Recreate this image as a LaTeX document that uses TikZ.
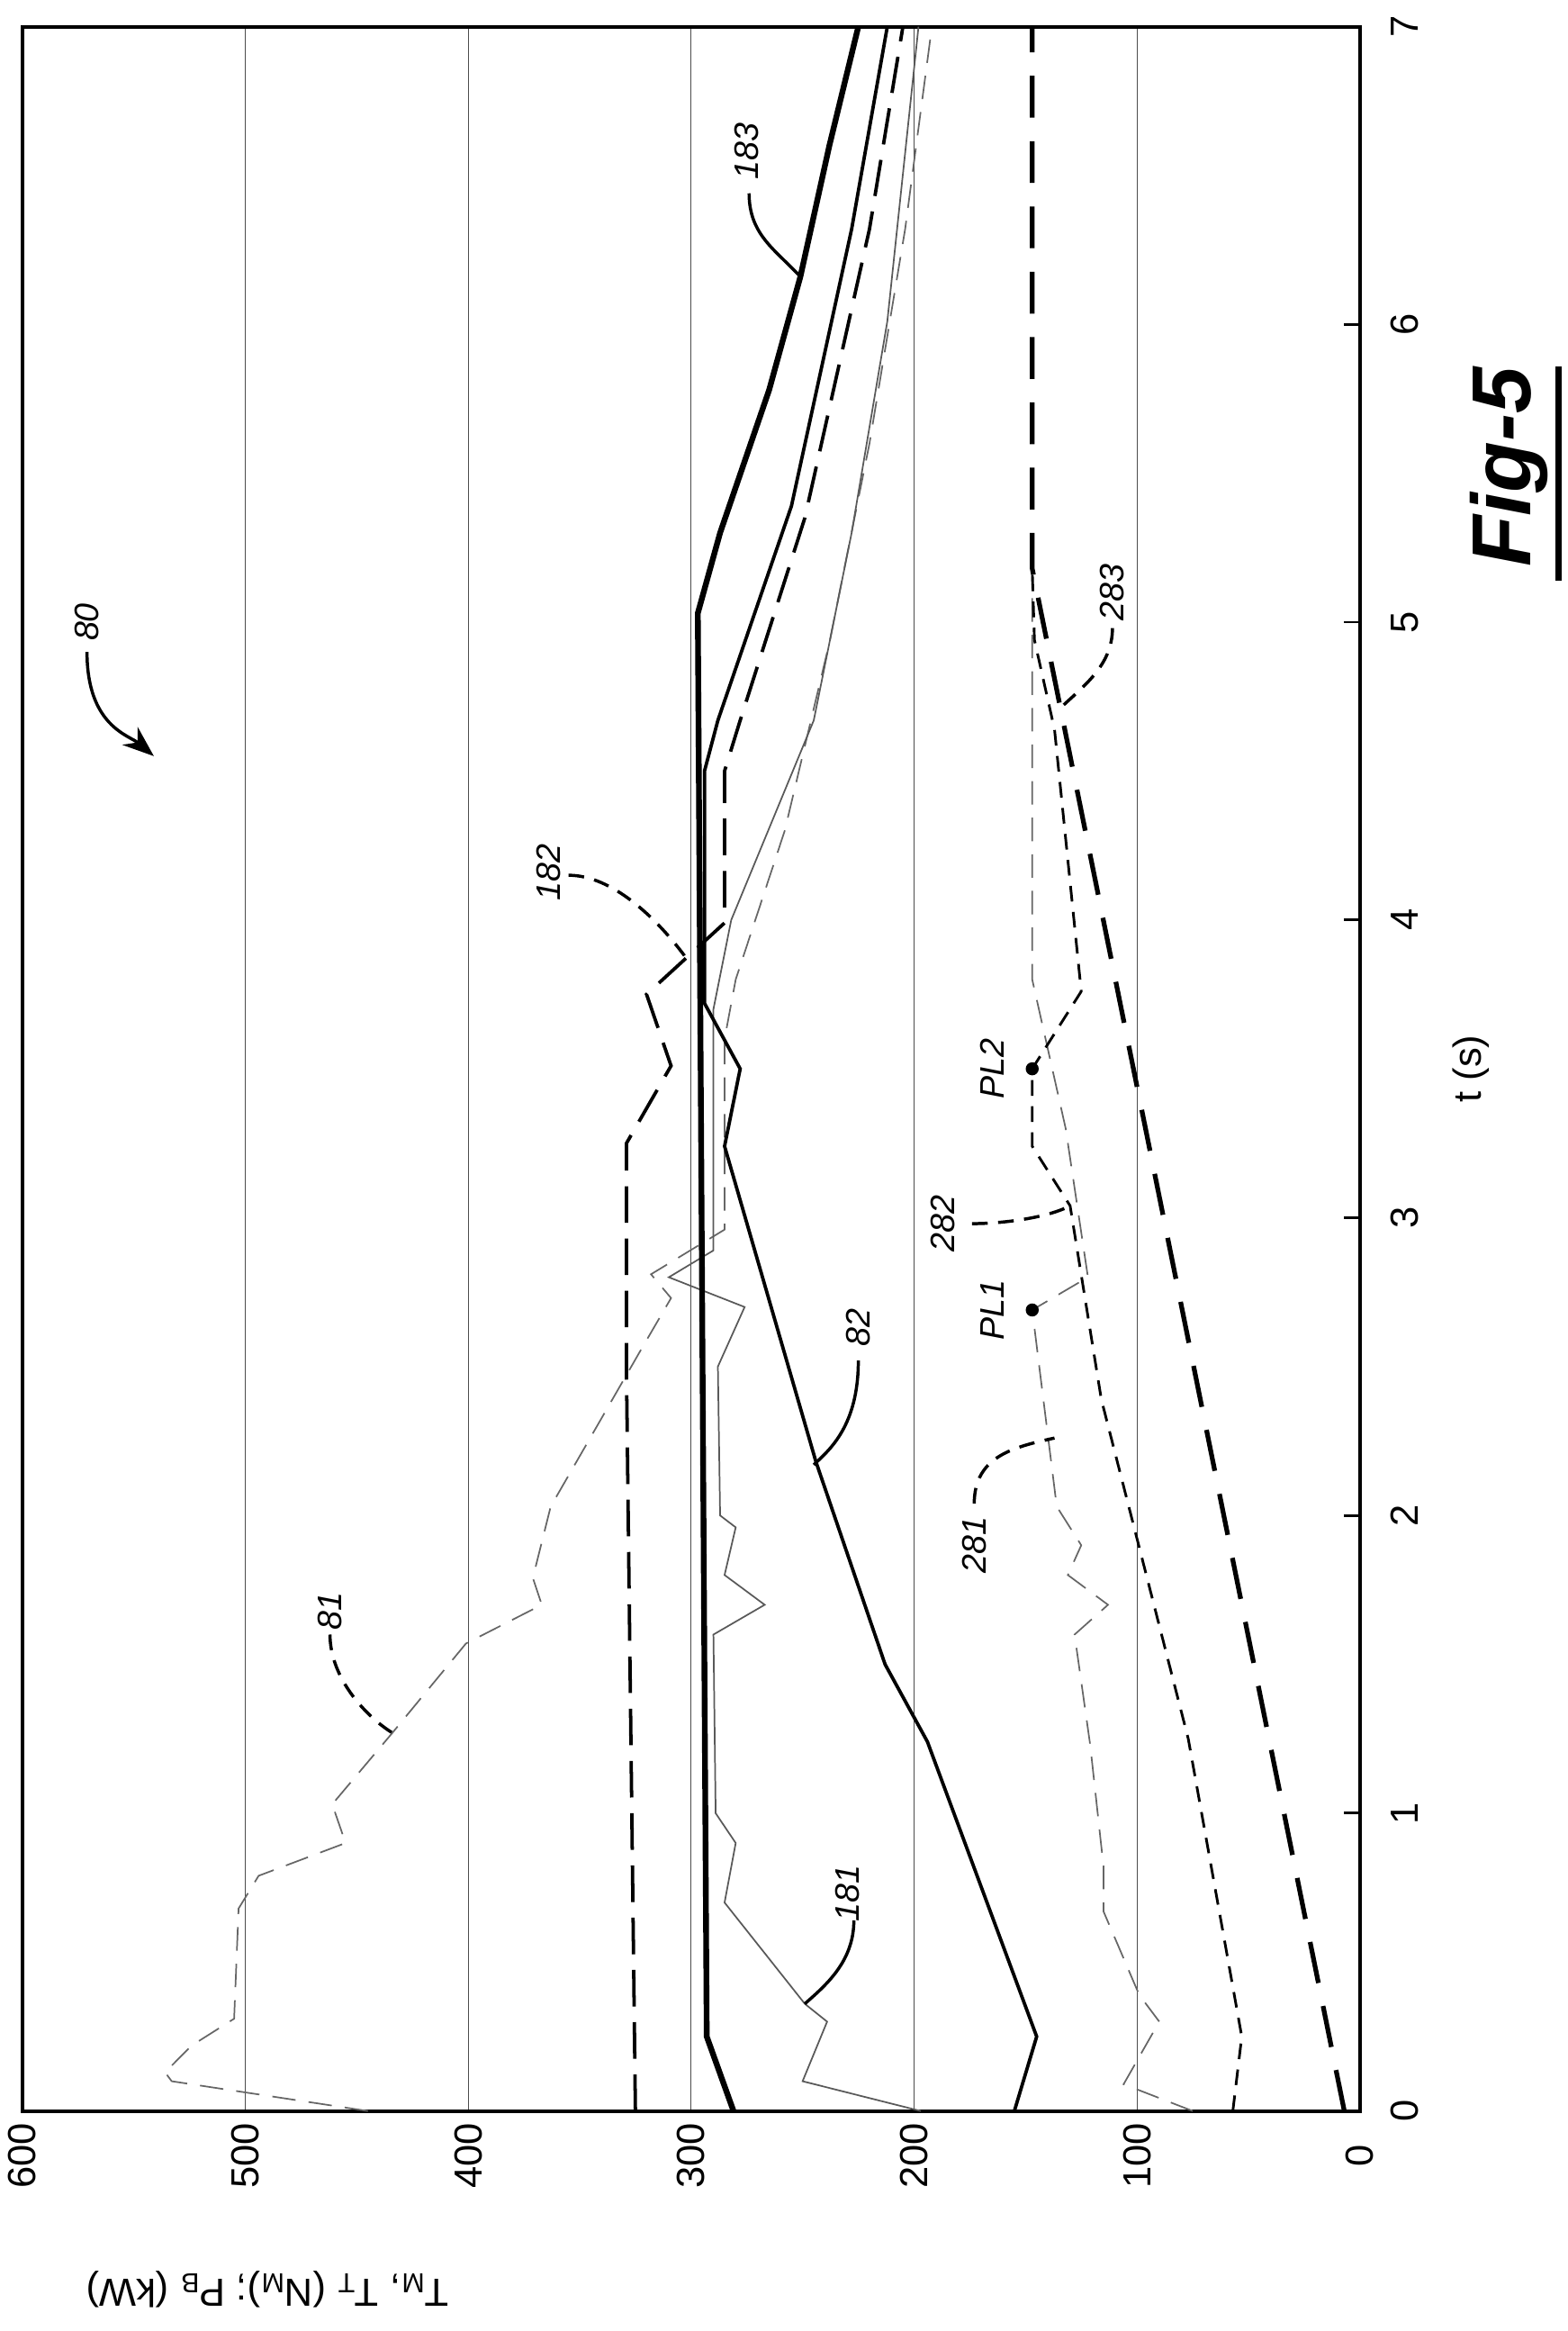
\documentclass[tikz,border=0pt]{standalone}
\usepackage{fontspec}
\setmainfont{Liberation Sans}
\usetikzlibrary{arrows.meta}
\tikzstyle{grid} = [black!70, line width=0.4pt]
\tikzstyle{thickline} = [line width=2.2pt]
\tikzstyle{medline} = [line width=1.3pt]
\tikzstyle{longdash} = [line width=1.3pt, dash pattern=on 14pt off 6pt]
\tikzstyle{thingray} = [black!65, line width=0.6pt]
\tikzstyle{graydash} = [black!60, line width=0.6pt, dash pattern=on 9pt off 5pt]
\tikzstyle{shortdash} = [line width=1pt, dash pattern=on 6pt off 4pt]
\tikzstyle{bigdash} = [line width=1.8pt, dash pattern=on 16pt off 9pt]
\tikzstyle{leader} = [line width=1.2pt]
\tikzstyle{leaderdash} = [line width=1.2pt, dash pattern=on 6pt off 4pt]
\tikzstyle{tick} = [font=\fontsize{15}{18}\selectfont, rotate=90]
\tikzstyle{ref} = [font=\fontsize{13}{16}\selectfont\itshape, rotate=90, inner sep=1pt]
\tikzstyle{dot} = [circle, fill=black, inner sep=0pt, minimum size=5pt]

\begin{document}
\begin{tikzpicture}
				\useasboundingbox (0,0) rectangle (21.1,-31.36);
				\begin{scope}[shift={(18.3,-28.4)}, x={(0cm,4.006cm)}, y={(-0.03cm,0cm)}]
				% grid and frame
				\foreach \v in {100,200,...,500}
					\draw [grid] (0,\v) -- (7,\v);
				\draw [line width=1.4pt] (0,0) rectangle (7,600);
				\foreach \t in {1,...,6}
					\draw [line width=1pt] (\t,0) -- (\t,7);
				\foreach \t in {0,...,7}
					\node (TLab\t) [tick] at (\t,-20) {\t};
				\foreach \v in {0,100,...,600}
					\node (VLab\v) [tick] at (-0.15,\v) {\v};
				\node (TTitle) [tick] at (3.5,-50) {t (s)};
				\node (VTitle) [font=\fontsize{15}{18}\selectfont, rotate=180] at (-0.6,490) {T$_\mathrm{M}$, T$_\mathrm{T}$ (N$_\mathrm{M}$); P$_\mathrm{B}$ (kW)};
				\node (Fig) [rotate=90, font=\fontsize{32}{36}\selectfont\bfseries\itshape] at (5.52,-67) {Fig-5};
				\draw [line width=2.4pt] (5.14,-89) -- (5.86,-89);

				% motor torque
				\draw [graydash] (0,445) -- (0.1,533) -- (0.13,536) -- (0.22,524) -- (0.31,505) -- (0.68,503) -- (0.79,494) -- (0.9,455) -- (1.03,461) -- (1.27,434) -- (1.57,401) -- (1.7,367) -- (1.79,371) -- (2.03,363) -- (2.55,323) -- (2.73,309) -- (2.81,318) -- (2.96,285) -- (3.6,285) -- (3.8,280) -- (4.3,258) -- (4.93,238) -- (5.6,220) -- (6.32,204) -- (7,192);
				\draw [thingray] (0,197) -- (0.1,250) -- (0.3,239) -- (0.36,249) -- (0.7,285) -- (0.9,280) -- (1.0,289) -- (1.6,290) -- (1.7,267) -- (1.8,285) -- (1.96,280) -- (2.0,287) -- (2.5,288) -- (2.7,276) -- (2.8,310) -- (2.89,290) -- (3.7,290) -- (4.0,282) -- (4.67,245) -- (5.3,228) -- (6.01,212) -- (7,198);
				\draw [thickline] (0,281) -- (0.25,293) -- (5.03,297) -- (5.3,287) -- (5.78,265) -- (6.16,251) -- (6.6,238) -- (7,225);
				\draw [medline] (0,155) -- (0.25,145) -- (1.24,194) -- (1.5,213) -- (2.18,244) -- (3.24,285) -- (3.5,278) -- (3.72,294) -- (4.5,294) -- (4.67,288) -- (5.39,255) -- (6.32,228) -- (7,212);
				\draw [longdash] (0,325) -- (2.48,329) -- (3.25,329) -- (3.51,309) -- (3.75,320) -- (3.99,285) -- (4.5,285) -- (4.67,278) -- (5.35,249) -- (6.32,220) -- (7,205);

				% battery power
				\draw [graydash] (0,75) -- (0.09,106) -- (0.3,90) -- (0.39,99) -- (0.67,115) -- (0.82,115) -- (1.23,121) -- (1.6,128) -- (1.7,113) -- (1.8,131) -- (1.9,125) -- (2.03,136) -- (2.69,147) -- (2.8,122) -- (3.3,132) -- (3.8,147) -- (5.18,147);
				\draw [shortdash] (0,57) -- (0.25,53) -- (1.25,77) -- (2.39,116) -- (3.04,130) -- (3.24,147) -- (3.5,147) -- (3.76,125) -- (4.64,137) -- (4.94,146) -- (5.18,147);
				\draw [bigdash] (0,7) -- (5.18,147) -- (7,147);
				\node (PL1) [dot] at (2.69,147) {};
				\node (PL2) [dot] at (3.5,147) {};
				\node (PL1Lab) [ref] at (2.69,165) {PL1};
				\node (PL2Lab) [ref] at (3.5,165) {PL2};

				% reference numerals
				\node (L80) [ref] at (5.0,571) {80};
				\draw [leader, -{Stealth[length=12pt, width=9pt]}] (4.9,571) .. controls (4.65,571) and (4.62,552) .. (4.55,541);
				\node (L81) [ref] at (1.68,462) {81};
				\draw [leaderdash] (1.6,462) .. controls (1.45,462) and (1.32,445) .. (1.27,434);
				\node (L181) [ref] at (0.73,230) {181};
				\draw [leader] (0.64,227) .. controls (0.5,227) and (0.42,240) .. (0.36,249);
				\node (L281) [ref] at (1.9,173) {281};
				\draw [leaderdash] (2.04,173) .. controls (2.2,173) and (2.23,155) .. (2.26,137);
				\node (L82) [ref] at (2.63,225) {82};
				\draw [leader] (2.52,225) .. controls (2.3,225) and (2.22,238) .. (2.17,245);
				\node (L282) [ref] at (2.98,187) {282};
				\draw [leaderdash] (2.98,174) .. controls (2.98,160) and (3.0,140) .. (3.04,130);
				\node (L182) [ref] at (4.16,364) {182};
				\draw [leaderdash] (4.15,355) .. controls (4.15,335) and (4.0,315) .. (3.88,303);
				\node (L183) [ref] at (6.58,275) {183};
				\draw [leader] (6.44,274) .. controls (6.3,274) and (6.25,262) .. (6.16,251);
				\node (L283) [ref] at (5.1,111) {283};
				\draw [leaderdash] (4.98,111) .. controls (4.85,111) and (4.78,125) .. (4.7,136);
				\end{scope}
			\end{tikzpicture}
\end{document}
